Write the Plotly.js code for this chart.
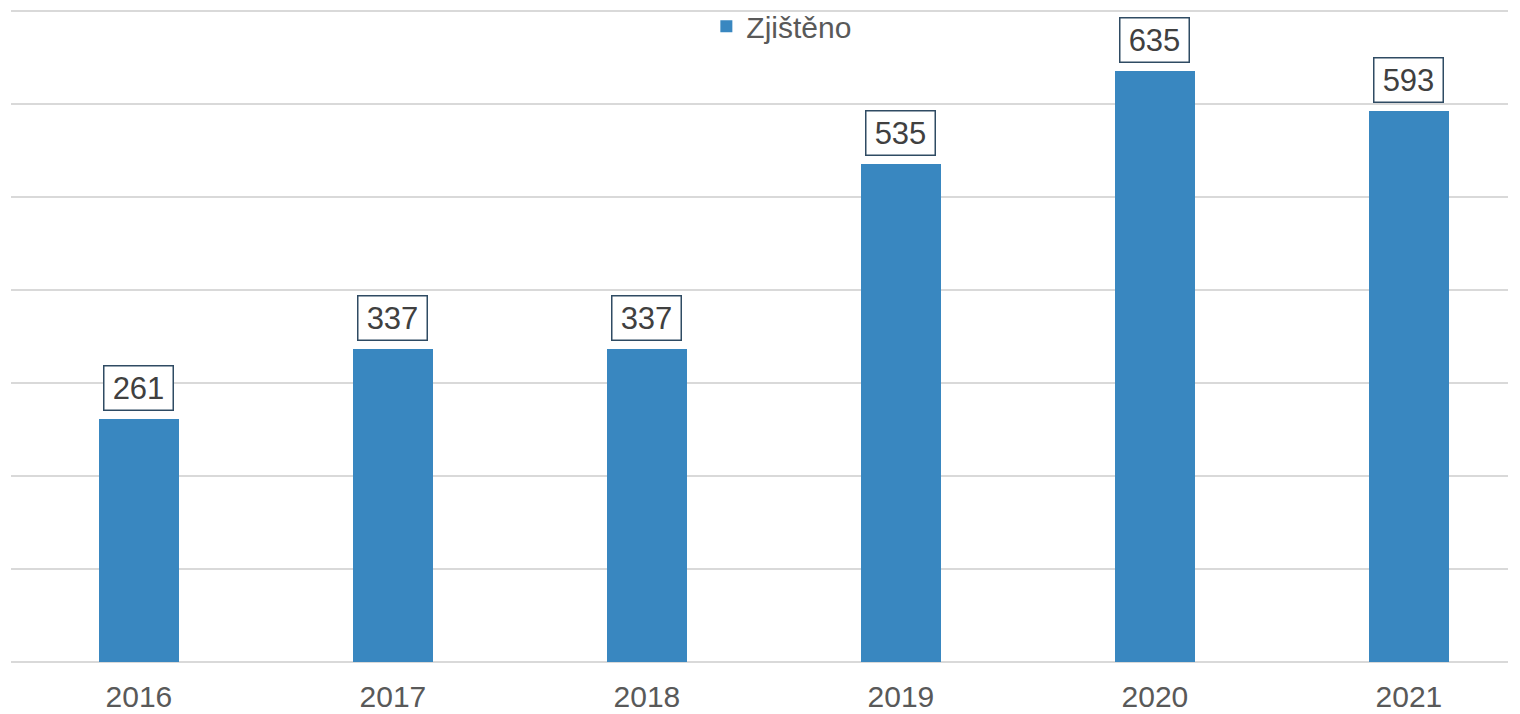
<!DOCTYPE html>
<html>
<head>
<meta charset="utf-8">
<script src="https://cdn.plot.ly/plotly-3.0.1.min.js"></script>
<style>html,body{margin:0;padding:0;background:#fff;}#chart{width:1520px;height:714px;}</style>
</head>
<body>
<div id="chart"></div>
<script>
const years = ['2016', '2017', '2018', '2019', '2020', '2021'];
const zjisteno = [261, 337, 337, 535, 635, 593];
const seriesName = 'Zjištěno';

const annotations = years.map((y, i) => ({
  x: i, y: zjisteno[i], xref: 'x', yref: 'y',
  text: String(zjisteno[i]), showarrow: false,
  yanchor: 'bottom', xanchor: 'center', yshift: 8,
  font: {family: 'Liberation Sans, Arial, sans-serif', size: 31, color: '#404040'},
  bgcolor: '#ffffff', bordercolor: '#2f4b63', borderwidth: 1.5, borderpad: 2,
  width: 64, height: 39
}));

const data = [{
  type: 'bar', x: years, y: zjisteno, name: seriesName,
  marker: {color: '#3987c0'}, width: 0.315, hoverinfo: 'none'
}];

const layout = {
  width: 1520, height: 714,
  margin: {l: 11, r: 12, t: 10, b: 52, autoexpand: false},
  paper_bgcolor: '#ffffff', plot_bgcolor: '#ffffff',
  font: {family: 'Liberation Sans, Arial, sans-serif', color: '#595959', size: 30},
  showlegend: true,
  legend: {orientation: 'h', x: 0.4645, xanchor: 'left', y: 1.015, yanchor: 'top',
    font: {size: 30, color: '#595959'}, bgcolor: 'rgba(255,255,255,0)', itemwidth: 30},
  xaxis: {type: 'category', range: [-0.5035, 5.39], showgrid: false, zeroline: false,
    showline: false, ticks: '', ticklabelstandoff: 14, automargin: false,
    tickfont: {size: 30, color: '#595959'}},
  yaxis: {range: [0, 701.1], dtick: 100, showticklabels: false, showgrid: true, automargin: false,
    gridcolor: '#d9d9d9', gridwidth: 2, zeroline: true, zerolinecolor: '#d9d9d9', zerolinewidth: 2,
    showline: false, ticks: ''},
  annotations: annotations,
  bargap: 0
};

Plotly.newPlot('chart', data, layout, {displayModeBar: false, staticPlot: true});
</script>
</body>
</html>
